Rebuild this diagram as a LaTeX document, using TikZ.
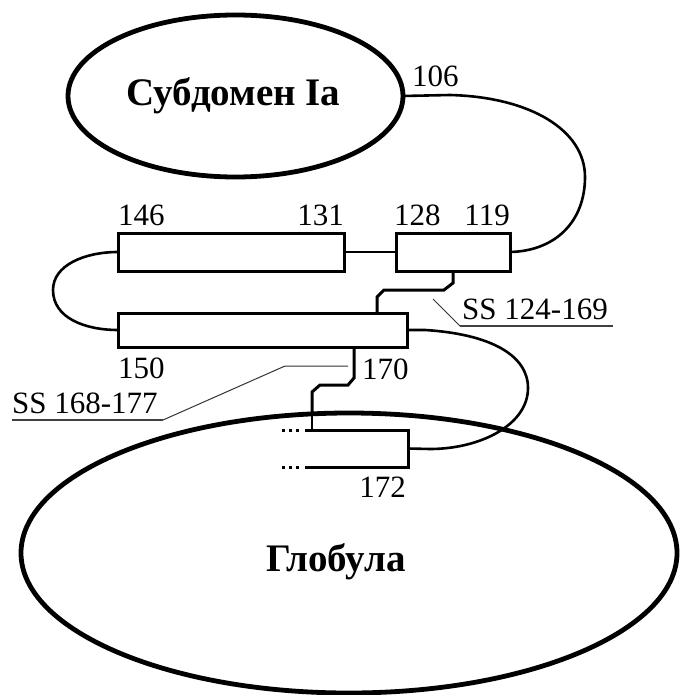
\documentclass[tikz,border=0pt]{standalone}
\usepackage{fontspec}
\setmainfont{Liberation Serif}
\usetikzlibrary{shapes.geometric,calc}
\begin{document}
\begin{tikzpicture}[x=1pt,y=-1pt,
 ell/.style={ellipse,draw,line width=4.8pt,inner sep=0pt,outer sep=0pt},
 helix/.style={rectangle,draw,line width=3pt,inner sep=0pt,outer sep=0pt},
 openbox/.style={rectangle,inner sep=0pt,outer sep=0pt},
 lbl/.style={font=\fontsize{31}{35}\selectfont,inner sep=0pt},
 ttl/.style={font=\bfseries\fontsize{39}{42}\selectfont,inner sep=0pt},
 loopline/.style={line width=2.6pt},
 bond/.style={line width=3pt,line join=miter},
 ptr/.style={line width=1pt,black!80},
 uline/.style={line width=1.6pt,black!75},
 dots/.style={line width=3pt,dash pattern=on 3pt off 4pt}]
\useasboundingbox (0,0) rectangle (680,695);

% domains
\node[ell,minimum width=335pt,minimum height=162pt] (sub) at (235.5,96) {};
\node[ttl,anchor=base] (subt) at (233.5,106) {Субдомен Ia};
\node[ell,minimum width=656pt,minimum height=280pt] (glob) at (349,553) {};
\node[ttl,anchor=base] (globt) at (336,571) {Глобула};

% helices
\node[helix,minimum width=226pt,minimum height=38pt] (b1) at (231,252) {};
\node[helix,minimum width=114pt,minimum height=38pt] (b3) at (453,252) {};
\node[helix,minimum width=289pt,minimum height=34pt] (b2) at (262.5,330) {};
\node[openbox,minimum width=103pt,minimum height=37pt] (b4) at (356.5,448.5) {};
\draw[line width=3pt] (b4.north west) -- (b4.north east) -- (b4.south east) -- (b4.south west);
\draw[dots] ([xshift=-23pt]b4.north west) -- ([xshift=-4pt]b4.north west);
\draw[dots] ([xshift=-23pt]b4.south west) -- ([xshift=-4pt]b4.south west);

% residue numbers
\node[lbl,anchor=base west] (n106) at (412,87) {106};
\node[lbl,anchor=base west] (n146) at (118,225) {146};
\node[lbl,anchor=base east] (n131) at (344,225) {131};
\node[lbl,anchor=base west] (n128) at (394,225) {128};
\node[lbl,anchor=base east] (n119) at (510,225) {119};
\node[lbl,anchor=base west] (n150) at (118,378) {150};
\node[lbl,anchor=base west] (n170) at (362,379) {170};
\node[lbl,anchor=base east] (n172) at (406,497) {172};

% loops
\draw[loopline] (sub.east) -- (450,95) .. controls (530,97) and (585,130) .. (585,177)
  .. controls (585,222) and (555,251) .. (b3.east);
\draw[loopline] (b1.east) -- (b3.west);
\draw[loopline] (b1.west) .. controls (85,252) and (53,265) .. (53,290)
  .. controls (53,318) and (85,330) .. (b2.west);
\draw[loopline] (b2.east) -- ++(18,0) .. controls (490,334) and (528,355) .. (528,388)
  .. controls (528,425) and (480,449) .. (430,449) -- (b4.east);

% disulfide bonds
\draw[bond] (b3.south) -- ++(0,12) -- ++(-9,7) -- ++(-60,0) -- ++(-7,7)
  -- ($(b2.north west)+(259,0)$);
\draw[bond] ($(b2.south west)+(236,0)$) -- ++(0,31) -- ++(-6,7) -- ++(-28,0) -- ++(-8,7)
  -- ++(0,20);
\draw[line width=2pt] ($(b2.south west)+(194,62)$) -- ($(b4.north west)+(7,0)$);

% SS labels
\node[lbl,anchor=base west] (ss1) at (462,319) {SS 124-169};
\draw[uline] (460,326) -- (613,326);
\draw[ptr] (433,299) -- (460,326);
\node[lbl,anchor=base west] (ss2) at (12,413) {SS 168-177};
\draw[uline] (12,420) -- (163,420);
\draw[ptr] (163,420) -- (285,366) -- (348,366);
\end{tikzpicture}
\end{document}
